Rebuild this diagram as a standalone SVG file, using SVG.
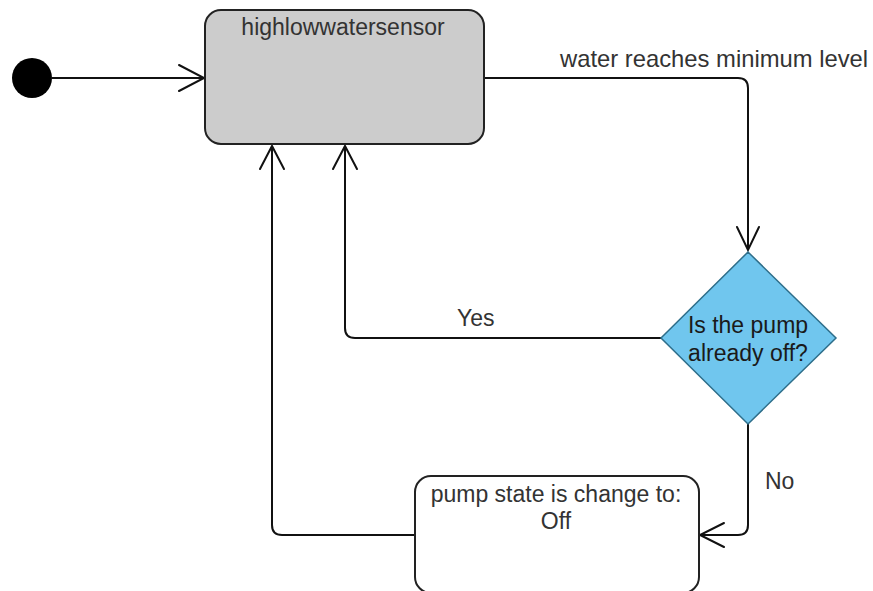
<svg xmlns="http://www.w3.org/2000/svg" width="873" height="591" viewBox="0 0 873 591">
  <style>
    .lbl { font-family: "Liberation Sans", Arial, sans-serif; font-size: 23px; fill: #333333; }
    .wide { font-size: 23.8px; }
    .dark { fill: #1a1a1a; }
    .edge { fill: none; stroke: #111111; stroke-width: 2; stroke-linejoin: round; }
    .head { fill: none; stroke: #111111; stroke-width: 2; stroke-linecap: round; stroke-linejoin: miter; }
    .state { stroke: #222222; stroke-width: 2; }
  </style>
  <rect width="873" height="591" fill="#ffffff"/>

  <!-- connectors -->
  <g id="edges">
    <!-- initial -> sensor -->
    <path class="edge" d="M52 78 H204"/>
    <path class="head" d="M179 65 L204 78 L179 91"/>
    <!-- sensor -> decision -->
    <path class="edge" d="M484 78 H738 Q748 78 748 88 V250"/>
    <path class="head" d="M737 227 L748 250 L759 227"/>
    <text class="lbl wide" x="560" y="67">water reaches minimum level</text>
    <!-- decision (Yes) -> sensor -->
    <path class="edge" d="M661 338 H355 Q345 338 345 328 V146"/>
    <path class="head" d="M333 169 L345 146 L357 169"/>
    <text class="lbl" x="457" y="326">Yes</text>
    <!-- decision (No) -> pump state -->
    <path class="edge" d="M748 424 V525 Q748 535 738 535 H700"/>
    <path class="head" d="M724 523 L700 535 L724 547"/>
    <text class="lbl" x="765" y="489">No</text>
    <!-- pump state -> sensor -->
    <path class="edge" d="M415 535 H282 Q272 535 272 525 V146"/>
    <path class="head" d="M260 169 L272 146 L284 169"/>
  </g>

  <g id="initial">
    <circle cx="32" cy="78" r="20" fill="#000000"/>
  </g>

  <g id="sensor">
    <rect class="state" x="205" y="10" width="279" height="134" rx="16" fill="#cccccc"/>
    <text class="lbl" x="343" y="35" text-anchor="middle">highlowwatersensor</text>
  </g>

  <g id="decision">
    <polygon points="748,252 836,338 748,424 661,338" fill="#70c6ee" stroke="#2e6e8a" stroke-width="1.5"/>
    <text class="lbl dark" x="748" y="333" text-anchor="middle">Is the pump</text>
    <text class="lbl dark" x="748" y="361" text-anchor="middle">already off?</text>
  </g>

  <g id="pumpstate">
    <rect class="state" x="415" y="476" width="284" height="117" rx="16" fill="#ffffff"/>
    <text class="lbl" x="556" y="502" text-anchor="middle">pump state is change to:</text>
    <text class="lbl" x="556" y="529" text-anchor="middle">Off</text>
  </g>
</svg>
